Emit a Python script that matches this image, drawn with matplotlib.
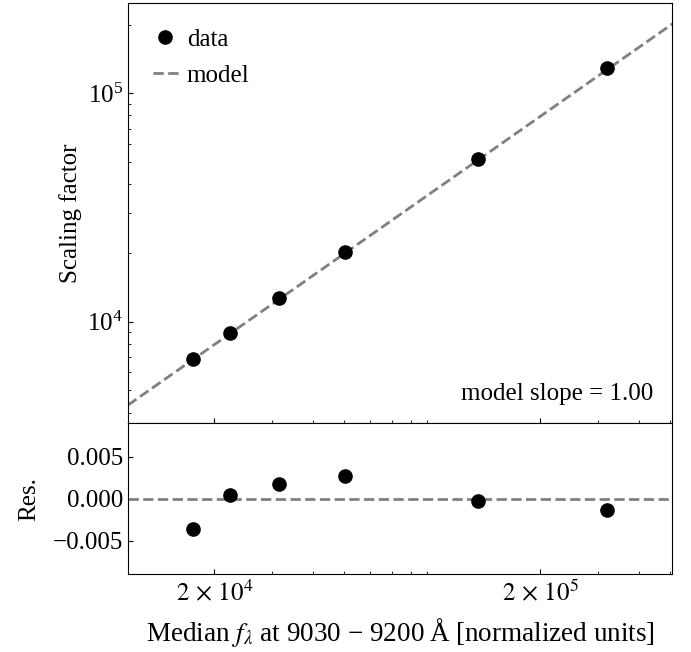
import numpy as np
import matplotlib
matplotlib.use("Agg")
import matplotlib.pyplot as plt
from matplotlib.ticker import FuncFormatter, NullFormatter

plt.rcParams.update({
    "font.family": ["Liberation Serif", "DejaVu Serif"],
    "mathtext.fontset": "stix",
    "font.size": 18,
    "xtick.direction": "in",
    "ytick.direction": "in",
    "axes.unicode_minus": True,
})

# Measurements: median flux vs. fitted scaling factor, and fit residuals
median_flux = [17170, 22300, 31470, 50330, 129000, 320700]
scaling_factor = [6845, 8923, 12660, 20250, 51560, 128700]
residuals = [-0.0036, 0.0005, 0.0018, 0.0027, -0.0003, -0.0013]

# Power-law model parameters (log10 normalisation and slope)
model_slope = 1.00
model_log_norm = -0.4015

x_range = [1.087e4, 5.08e5]
y_range = [3590, 2.48e5]
res_range = [-0.009, 0.009]
x_ticks = [2e4, 2e5]
x_tick_labels = [r"$2\,\times\,10^{4}$", r"$2\,\times\,10^{5}$"]
res_ticks = [-0.005, 0.0, 0.005]

fig = plt.figure(figsize=(6.91, 6.52), dpi=100)
ax = fig.add_axes([0.1852, 0.3508, 0.788, 0.6442])
axr = fig.add_axes([0.1852, 0.1192, 0.788, 0.2316], sharex=ax)

ax.set_xscale("log")
ax.set_yscale("log")
x_line = np.geomspace(x_range[0], x_range[1], 200)
y_line = 10 ** (model_log_norm + model_slope * np.log10(x_line))
ax.plot(median_flux, scaling_factor, "o", color="k", ms=9.5, label="data", zorder=3)
ax.plot(x_line, y_line, "--", color="gray", lw=2, label="model", zorder=2)
ax.set_xlim(x_range)
ax.set_ylim(y_range)
ax.set_ylabel("Scaling factor")
ax.legend(loc="upper left", frameon=False, handlelength=1.0,
          handletextpad=0.35, labelspacing=0.55, borderaxespad=0.6)
ax.text(0.965, 0.056, f"model slope = {model_slope:.2f}",
        transform=ax.transAxes, ha="right", va="baseline")
ax.tick_params(labelbottom=False)

axr.plot(median_flux, residuals, "o", color="k", ms=9.5, zorder=3)
axr.axhline(0.0, ls="--", color="gray", lw=2, zorder=2)
axr.set_ylim(res_range)
axr.set_yticks(res_ticks)
axr.yaxis.set_major_formatter(
    FuncFormatter(lambda v, p: f"{v:.3f}".replace("-", "\u2212")))
axr.set_xticks(x_ticks)
axr.set_xticklabels(x_tick_labels)
axr.xaxis.set_minor_formatter(NullFormatter())
axr.set_ylabel("Res.", labelpad=9)
axr.set_xlabel("Median $f_\\lambda$ at 9030 \u2212 9200\u2009\u00c5 [normalized units]",
               fontsize=19.5, labelpad=8)

fig.savefig("out.png", dpi=100)
